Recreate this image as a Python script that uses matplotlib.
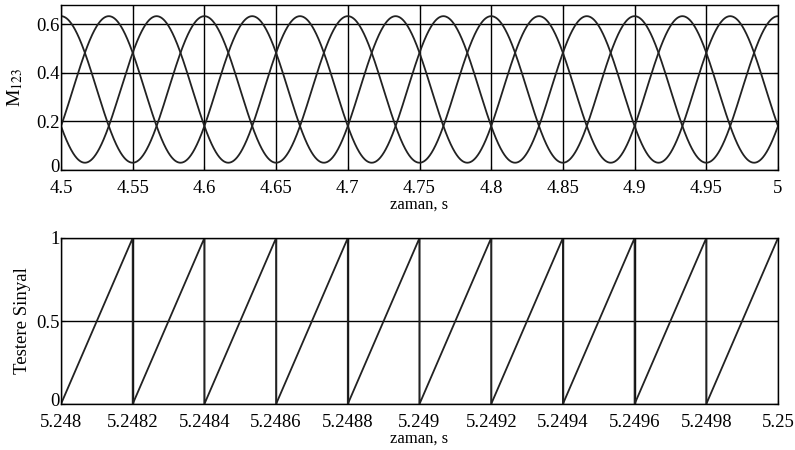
import numpy as np
import matplotlib
matplotlib.use("Agg")
import matplotlib.pyplot as plt
from matplotlib.transforms import ScaledTranslation

plt.rcParams['font.family'] = ['Liberation Serif', 'DejaVu Serif']
plt.rcParams['mathtext.fontset'] = 'stix'

# modulation signals M1, M2, M3 (three-phase)
m_offset = 0.332
m_amp = 0.302
m_freq = 10.0          # Hz, one peak every 0.1 s per phase
m_phase_deg = [0, 120, 240]
t_top = np.linspace(4.5, 5.0, 2001)

# sawtooth carrier vertices
saw_t = [5.2480, 5.2482, 5.2482, 5.2484, 5.2484, 5.2486, 5.2486, 5.2488,
         5.2488, 5.2490, 5.2490, 5.2492, 5.2492, 5.2494, 5.2494, 5.2496,
         5.2496, 5.2498, 5.2498, 5.2500]
saw_y = [0, 1, 0, 1, 0, 1, 0, 1, 0, 1, 0, 1, 0, 1, 0, 1, 0, 1, 0, 1]

top_xticks = [4.5, 4.55, 4.6, 4.65, 4.7, 4.75, 4.8, 4.85, 4.9, 4.95, 5]
top_yticks = [0, 0.2, 0.4, 0.6]
bot_xticks = [5.248, 5.2482, 5.2484, 5.2486, 5.2488, 5.249, 5.2492, 5.2494,
              5.2496, 5.2498, 5.25]
bot_yticks = [0, 0.5, 1]

fig = plt.figure(figsize=(7.95, 4.5), dpi=100)
W, H = 795, 450
ax1 = fig.add_axes([61 / W, 1 - 170 / H, (778 - 61) / W, (170 - 5) / H])
ax2 = fig.add_axes([61 / W, 1 - 404 / H, (778 - 61) / W, (404 - 238) / H])

lc = '#222222'
for ph in m_phase_deg:
    y = m_offset + m_amp * np.cos(2 * np.pi * m_freq * t_top - np.deg2rad(ph))
    ax1.plot(t_top, y, color=lc, lw=1.3)
ax1.set_xlim(4.5, 5.0)
ax1.set_ylim(0, 0.68)
ax1.set_xticks(top_xticks)
ax1.set_xticklabels(['%g' % v for v in top_xticks])
ax1.set_yticks(top_yticks)
ax1.set_yticklabels(['%g' % v for v in top_yticks])
ax1.set_xlabel('zaman, s', fontsize=12, labelpad=0)
ax1.set_ylabel('M$_{123}$', fontsize=14, labelpad=8)

ax2.plot(saw_t, saw_y, color=lc, lw=1.3)
ax2.set_xlim(5.248, 5.25)
ax2.set_ylim(0, 1)
ax2.set_xticks(bot_xticks)
ax2.set_xticklabels(['%g' % v for v in bot_xticks])
ax2.set_yticks(bot_yticks)
ax2.set_yticklabels(['%g' % v for v in bot_yticks])
ax2.set_xlabel('zaman, s', fontsize=12, labelpad=0)
ax2.set_ylabel('Testere Sinyal', fontsize=13.5, labelpad=4)

for ax in (ax1, ax2):
    ax.grid(True, color='black', lw=1.0)
    ax.tick_params(direction='in', length=3, labelsize=13.5,
                   top=True, right=True)
    ax.tick_params(axis='x', pad=7)
    ax.tick_params(axis='y', pad=1)
    for s in ax.spines.values():
        s.set_linewidth(1.0)
    # lift the bottom-left "0" a touch so it clears the first x label
    lbl = ax.get_yticklabels()[0]
    lbl.set_transform(lbl.get_transform() +
                      ScaledTranslation(0, 3 / 72, fig.dpi_scale_trans))

fig.savefig('out.png', dpi=100)
